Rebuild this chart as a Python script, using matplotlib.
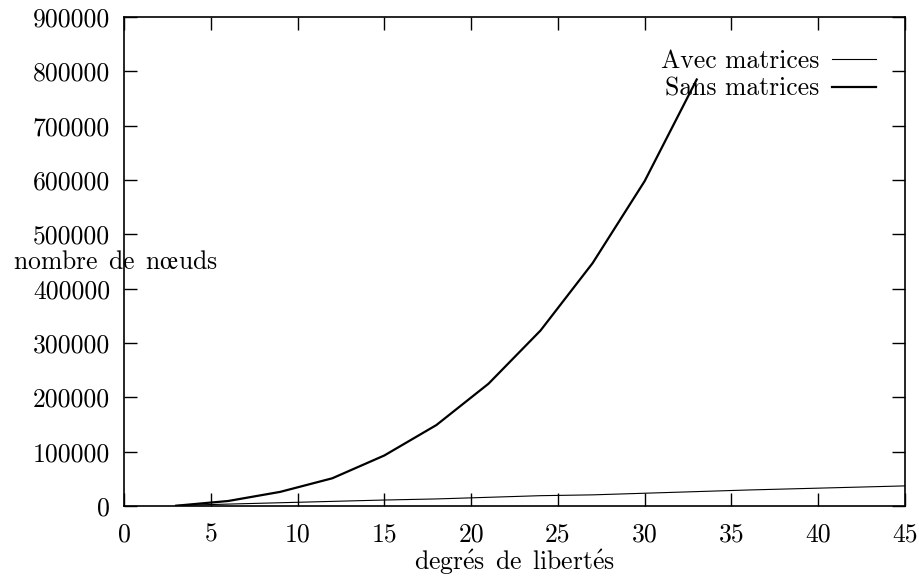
import matplotlib
matplotlib.use('Agg')
import matplotlib.pyplot as plt

plt.rcParams['font.family'] = ['cmr10', 'DejaVu Serif']
plt.rcParams['mathtext.fontset'] = 'cm'
plt.rcParams['axes.unicode_minus'] = False

# data
x_avec = [3, 6, 9, 12, 15, 18, 21, 24, 27, 30, 33, 36, 39, 42, 45]
y_avec = [1000, 3500, 6000, 8500, 11000, 13000, 16000, 19000, 20500,
          23500, 26500, 29500, 32000, 34500, 37000]
x_sans = [3, 6, 9, 12, 15, 18, 21, 24, 27, 30, 33]
y_sans = [500, 9200, 26000, 51000, 93000, 149000, 225000, 323000, 447000,
          598000, 785000]

xticks = [0, 5, 10, 15, 20, 25, 30, 35, 40, 45]
yticks = [0, 100000, 200000, 300000, 400000, 500000, 600000, 700000, 800000, 900000]

fs = 18.5

fig = plt.figure(figsize=(9.2, 5.81), dpi=100)
ax = fig.add_axes([124/920, 1-506/581, (905-124)/920, (506-17)/581])

ax.plot(x_avec, y_avec, color='black', lw=0.8, label='Avec matrices')
ax.plot(x_sans, y_sans, color='black', lw=1.6, label='Sans matrices')

ax.set_xlim(0, 45)
ax.set_ylim(0, 900000)
ax.set_xticks(xticks)
ax.set_xticklabels([str(v) for v in xticks])
ax.set_yticks(yticks)
ax.set_yticklabels([str(v) for v in yticks])
ax.tick_params(direction='in', length=9.5, width=1, top=True, right=True,
               labelsize=fs, color='black')
ax.tick_params(axis='x', pad=12)
ax.tick_params(axis='y', pad=10)
for s in ax.spines.values():
    s.set_linewidth(1.2)

# mathtext so the accents come from the same Computer Modern font
fig.text(13/920, 1-262/581, r'$\mathrm{nombre\ \,de\ \,n\oe uds}$', fontsize=fs,
         ha='left', va='center')
fig.text(514/920, 1-562/581, r'$\mathrm{degr\acute{e}s\ \,de\ \,libert\acute{e}s}$',
         fontsize=fs, ha='center', va='center')

leg = ax.legend(loc='upper right', bbox_to_anchor=(876/920, 1-49/581),
                bbox_transform=fig.transFigure, frameon=False, markerfirst=False,
                fontsize=fs, handlelength=1.7, handletextpad=0.5,
                labelspacing=0.17, borderpad=0, borderaxespad=0)

fig.savefig('out.png', dpi=100)
